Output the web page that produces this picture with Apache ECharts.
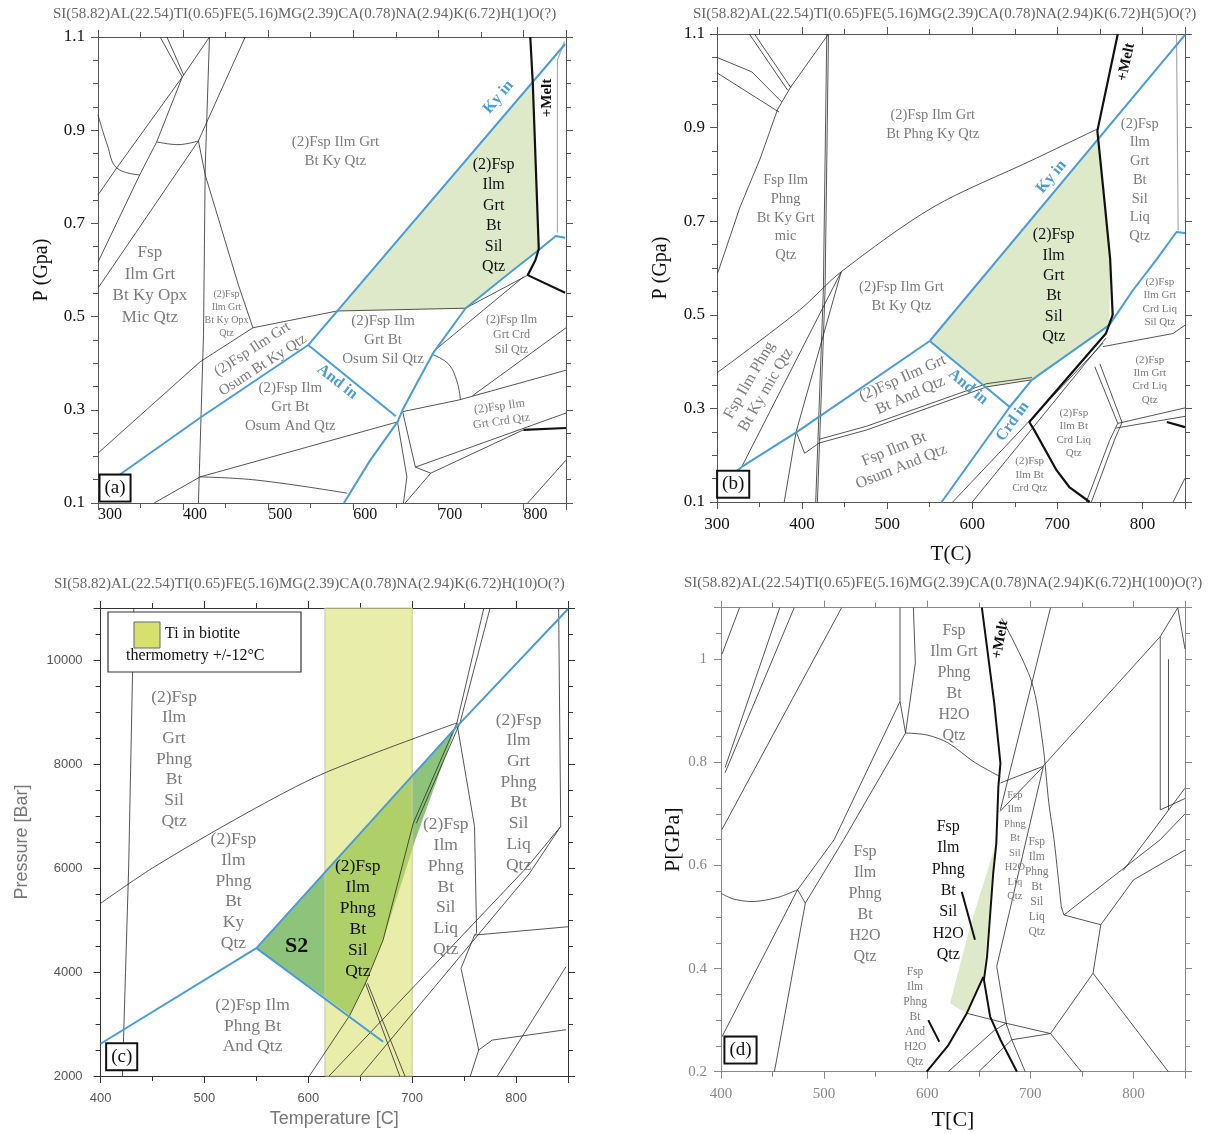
<!DOCTYPE html>
<html><head><meta charset="utf-8">
<script src="https://cdn.jsdelivr.net/npm/echarts@6/dist/echarts.min.js"></script>
<style>html,body{margin:0;padding:0;background:#fff}#c{width:1225px;height:1134px}</style>
</head><body><div id="c"></div>
<script>
// ---------------- Panel (a) : H(1) ----------------
const aTitle = 'SI(58.82)AL(22.54)TI(0.65)FE(5.16)MG(2.39)CA(0.78)NA(2.94)K(6.72)H(1)O(?)';
const aGreen = [[581,0.512],[811,1.001],[818,0.643],[732,0.518]];
const aBlue = [
  [[300,0.128],[420,0.283],[547,0.439]],
  [[547,0.439],[849,1.085]],
  [[547,0.439],[650,0.286]],
  [[589,0.1],[620,0.192],[652,0.274],[658,0.300],[675,0.358],[694,0.422],[732,0.518],[788,0.6],[818,0.643],[838,0.673],[849,0.669]]
];
const aMelt = [
  [[808,1.1],[811,1.0],[818,0.645],[814,0.621],[805,0.589],[849,0.551]],
  [[800,0.257],[850,0.261]]
];
const aThin = [
  [[431,1.1],[426,0.819],[424,0.461],[418,0.1]],
  [[373,1.1],[399,1.014]],
  [[381,1.1],[401,1.017]],
  [[431,1.1],[399,1.014],[322,0.819],[300,0.761]],
  [[399,1.014],[369,0.875],[349,0.804],[300,0.617]],
  [[473,1.1],[428,0.918],[418,0.877],[300,0.561]],
  [[418,0.877],[426,0.804],[465,0.568],[482,0.476]],
  [[300,0.207],[420,0.403],[482,0.476],[581,0.512],[732,0.518]],
  [[366,0.1],[420,0.156],[652,0.274]],
  [[658,0.296],[724,0.321],[850,0.385]],
  [[732,0.518],[805,0.589]],
  [[694,0.425],[800,0.585]],
  [[740,0.33],[850,0.476]],
  [[673,0.177],[850,0.293]],
  [[691,0.164],[800,0.257]],
  [[652,0.274],[663,0.156],[659,0.1]],
  [[658,0.296],[673,0.177],[691,0.164]],
  [[805,0.1],[850,0.192]],
  [[661,0.1],[691,0.164]]
];
const aCurves = [
  [[300,0.933],[311,0.868],[322,0.819],[349,0.804]],
  [[369,0.875],[394,0.869],[418,0.877]],
  [[420,0.156],[487,0.149],[593,0.121]],
  [[694,0.418],[712,0.398],[722,0.36],[726,0.321]]
];
const aGrey = [[[848,1.09],[840,1.05],[840,0.68]]];
const aText15 = [
  [579,0.855,'(2)Fsp Ilm Grt\nBt Ky Qtz',0],
  [635,0.45,'(2)Fsp Ilm\nGrt Bt\nOsum Sil Qtz',0],
  [526,0.306,'(2)Fsp Ilm\nGrt Bt\nOsum And Qtz',0],
  [487.5,0.413,'(2)Fsp Ilm Grt\nOsum Bt Ky Qtz',33]
];
const aText17 = [[361,0.568,'Fsp\nIlm Grt\nBt Ky Opx\nMic Qtz',0]];
const aText10 = [[451,0.506,'(2)Fsp\nIlm Grt\nBt Ky Opx\nQtz',0]];
const aText12 = [[786,0.46,'(2)Fsp Ilm\nGrt Crd\nSil Qtz',0],[773,0.291,'(2)Fsp Ilm\nGrt Crd Qtz',8]];
const aField = [[765,0.716,'(2)Fsp\nIlm\nGrt\nBt\nSil\nQtz',0]];
const aReact = [[770.6,0.971,'Ky in',50],[581,0.36,'And in',-38]];
const aMeltLbl = [[828,0.969,'+Melt',90]];
const aPanel = [[320,0.132,'(a)',0]];

// ---------------- Panel (b) : H(5) ----------------
const bTitle = 'SI(58.82)AL(22.54)TI(0.65)FE(5.16)MG(2.39)CA(0.78)NA(2.94)K(6.72)H(5)O(?)';
const bGreen = [[550,0.444],[747,0.874],[755,0.75],[762,0.62],[761,0.478],[670,0.361],[617,0.345]];
const bBlue = [
  [[300,0.132],[329,0.175],[394,0.25],[550,0.444]],
  [[550,0.444],[850,1.098]],
  [[550,0.444],[644,0.303]],
  [[564,0.1],[644,0.303],[670,0.361]],
  [[670,0.361],[761,0.478],[789,0.553],[816,0.617],[840,0.677],[850,0.675]]
];
const bMelt = [
  [[771,1.1],[747,0.893],[755,0.75],[762,0.62],[765,0.5],[757,0.46],[667,0.271],[673,0.253],[699,0.168],[714,0.132],[738,0.1]],
  [[828.6,0.271],[850,0.26]]
];
const bThin = [
  [[431,1.1],[427,0.553],[418,0.1]],
  [[429,1.1],[425,0.553],[416,0.1]],
  [[431,1.1],[386,0.985],[371,0.938],[351,0.835],[327,0.73],[301,0.59]],
  [[338,1.1],[383,0.98]],
  [[344,1.1],[387,0.985]],
  [[300,1.05],[341,1.019],[376,0.955]],
  [[300,1.017],[373,0.933]],
  [[329,0.175],[446,0.592]],
  [[379,0.1],[393,0.25],[446,0.592]],
  [[393,0.25],[403,0.204],[420,0.226],[476,0.254],[617,0.346],[670,0.361]],
  [[420,0.234],[476,0.262],[617,0.353],[670,0.366]],
  [[577,0.1],[754,0.44]],
  [[600,0.1],[757,0.45]],
  [[744,0.389],[771,0.268],[761.5,0.232],[734,0.1]],
  [[750,0.395],[776,0.27],[767,0.232],[740,0.1]],
  [[771,0.268],[850,0.301]],
  [[769,0.258],[850,0.283]],
  [[836,0.1],[850,0.151]],
  [[753.6,0.432],[836,0.46],[850,0.478]]
];
const bCurves = [
  [[300,0.376],[397,0.51],[446,0.592],[554,0.73],[671,0.831],[747,0.897]]
];
const bGrey = [[[840,1.1],[842,0.68]]];
const bText14 = [
  [553.5,0.906,'(2)Fsp Ilm Grt\nBt Phng Ky Qtz',0],
  [380.7,0.707,'Fsp Ilm\nPhng\nBt Ky Grt\nmic\nQtz',0],
  [796.8,0.788,'(2)Fsp\nIlm\nGrt\nBt\nSil\nLiq\nQtz',0],
  [516.7,0.538,'(2)Fsp Ilm Grt\nBt Ky Qtz',0]
];
const bText15 = [
  [347.8,0.35,'Fsp Ilm Phng\nBt Ky mic Qtz',60],
  [522.6,0.346,'(2)Fsp Ilm Grt\nBt And Qtz',24],
  [512.4,0.194,'Fsp Ilm Bt\nOsum And Qtz',22]
];
const bText11 = [
  [820.4,0.527,'(2)Fsp\nIlm Grt\nCrd Liq\nSil Qtz',0],
  [808.6,0.361,'(2)Fsp\nIlm Grt\nCrd Liq\nQtz',0],
  [719.3,0.247,'(2)Fsp\nIlm Bt\nCrd Liq\nQtz',0],
  [667.5,0.158,'(2)Fsp\nIlm Bt\nCrd Qtz',0]
];
const bField = [[695.7,0.5615,'(2)Fsp\nIlm\nGrt\nBt\nSil\nQtz',0]];
const bReact = [[693,0.795,'Ky in',50],[595,0.346,'And in',-40],[647.5,0.272,'Crd in',54]];
const bMeltLbl = [[781,1.04,'+Melt',78]];
const bPanel = [[319,0.138,'(b)',0]];

// ---------------- Panel (c) : H(10) ----------------
const cTitle = 'SI(58.82)AL(22.54)TI(0.65)FE(5.16)MG(2.39)CA(0.78)NA(2.94)K(6.72)H(10)O(?)';
const cGreen = [[550,4460],[742,8700],[703,6540],[672,4615],[655,3783],[640,3170]];
const cBand = [616, 700];
const cBlue = [
  [[400,2620],[550,4460]],
  [[550,4460],[742,8700],[850,10980]],
  [[550,4460],[672,2660]]
];
const cThin = [
  [[421,2000],[427,6000],[431,10000],[432,11000]],
  [[769,11000],[743,8790],[701,6860],[672,4615],[655,3783],[640,3170],[601,2000]],
  [[775,11000],[746,8790],[704,6860]],
  [[743,8790],[760,6800],[762,4750],[760,4710]],
  [[760,4710],[850,4870]],
  [[760,4710],[747,4070],[764,2500],[756,2000]],
  [[764,2500],[777,2690],[848,2890]],
  [[782,2000],[848,4100]],
  [[620,2000],[811,6025],[843,6800],[841,11000]],
  [[650,2000],[813,5900],[843,6800]],
  [[655,3783],[688,2000]],
  [[657,3783],[693,2000]]
];
const cCurves = [
  [[400,5320],[450,6000],[540,7050],[616,7830],[743,8790]]
];
const cText = [
  [470.7,8096,'(2)Fsp\nIlm\nGrt\nPhng\nBt\nSil\nQtz',0],
  [527.9,5548,'(2)Fsp\nIlm\nPhng\nBt\nKy\nQtz',0],
  [546.3,2962,'(2)Fsp Ilm\nPhng Bt\nAnd Qtz',0],
  [732.3,5635,'(2)Fsp\nIlm\nPhng\nBt\nSil\nLiq\nQtz',0],
  [802.4,7452,'(2)Fsp\nIlm\nGrt\nPhng\nBt\nSil\nLiq\nQtz',0]
];
const cField = [[647.6,5019,'(2)Fsp\nIlm\nPhng\nBt\nSil\nQtz',0]];
const cS2 = [[588.7,4487,'S2',0]];
const cPanel = [[420.3,2371,'(c)',0]];
const cLegend = ['Ti in biotite', 'thermometry +/-12°C'];

// ---------------- Panel (d) : H(100) ----------------
const dTitle = 'SI(58.82)AL(22.54)TI(0.65)FE(5.16)MG(2.39)CA(0.78)NA(2.94)K(6.72)H(100)O(?)';
const dGreen = [[665.7,0.637],[660,0.5],[654.4,0.384],[638.3,0.313],[622.1,0.333],[641.5,0.481]];
const dMelt = [
  [[653,1.1],[665,0.915],[671,0.798],[669,0.753],[667,0.643],[664,0.585],[658,0.423],[655,0.378],[661,0.307],[671,0.262],[687,0.2]],
  [[599.5,0.2],[620,0.25],[638.3,0.313],[654.4,0.384]],
  [[633.5,0.549],[646.3,0.456]],
  [[601,0.3],[611.7,0.258]]
];
const dThin = [
  [[573.6,1.1],[573.6,0.918],[579,0.857]],
  [[586.6,1.1],[588.5,0.993],[579,0.857]],
  [[671,0.76],[712,0.792]],
  [[670.6,0.705],[712.6,0.792]],
  [[712,0.792],[826,1.044],[843,1.1]],
  [[573.6,0.918],[509.7,0.65],[474.3,0.553]],
  [[579,0.857],[519,0.65],[481.8,0.527],[451.8,0.2]],
  [[474.3,0.553],[401,0.268]],
  [[474.3,0.553],[481.8,0.527]],
  [[418,1.1],[401,1.01]],
  [[457,1.1],[404,0.79]],
  [[471,1.1],[404,0.78]],
  [[517,1.1],[401,0.67]],
  [[719.6,1.1],[671,0.708]],
  [[712.6,0.792],[667.4,0.404]],
  [[667.4,0.404],[677,0.29]],
  [[639,0.313],[676.5,0.294],[719.6,0.274],[749.5,0.2]],
  [[682,0.262],[719.6,0.274]],
  [[695,0.2],[682,0.262],[676.5,0.294]],
  [[620.3,0.2],[665,0.28],[676.5,0.294]],
  [[650,0.2],[682,0.262]],
  [[730,0.52],[732.6,0.504],[768.3,0.485],[760.8,0.391],[833.8,0.2]],
  [[760.8,0.391],[719.6,0.274]],
  [[768.3,0.485],[800,0.572],[850,0.63]],
  [[732.6,0.504],[826,0.65],[850,0.7]],
  [[790,0.59],[850,0.75]],
  [[826,1.044],[826,0.708]],
  [[834,1.0],[834,0.708]],
  [[826,0.708],[834,0.715],[850,0.73]],
  [[843,1.1],[850,1.02]]
];
const dCurves = [
  [[579,0.857],[600,0.853],[620,0.838],[646,0.8],[671,0.772]],
  [[400,0.546],[412,0.535],[430,0.53],[455,0.538],[474.3,0.553]],
  [[672,1.08],[701,0.958],[712,0.837],[718,0.72],[723,0.65],[730,0.52]]
];
const dText16 = [
  [626,0.954,'Fsp\nIlm Grt\nPhng\nBt\nH2O\nQtz',0],
  [539.7,0.524,'Fsp\nIlm\nPhng\nBt\nH2O\nQtz',0]
];
const dField = [[620.4,0.551,'Fsp\nIlm\nPhng\nBt\nSil\nH2O\nQtz',0]];
const dSmall = [
  [588.2,0.306,'Fsp\nIlm\nPhng\nBt\nAnd\nH2O\nQtz',0],
  [706.2,0.558,'Fsp\nIlm\nPhng\nBt\nSil\nLiq\nQtz',0]
];
const dSmall2 = [[685,0.638,'Fsp\nIlm\nPhng\nBt\nSil\nH2O\nLiq\nQtz',0]];
const dMeltLbl = [[670.9,1.038,'+Melt',80]];
const dPanel = [[418.9,0.242,'(d)',0]];

// ---------------- build ----------------
const SERIF = "'Liberation Serif','DejaVu Serif',serif";
const SANS = "'Liberation Sans','DejaVu Sans',sans-serif";
const BLUE = '#4a9dd4', THIN = '#2a2a2a', GRAY_TXT = '#7b7b7b';

const grids = [
  {left:98, top:37, width:468, height:466},
  {left:717, top:34, width:468, height:468},
  {left:100.6, top:608, width:467.4, height:468},
  {left:721, top:607.7, width:464, height:464}
];
const panels = [
  {xmin:300,xmax:850,ymin:0.1,ymax:1.1,yint:0.2,ysplit:4,axisColor:'#555',
   xl:{color:'#111',fontFamily:SERIF,fontSize:16,margin:4,align:'left'},
   yl:{color:'#111',fontFamily:SERIF,fontSize:17,margin:13},
   yfmt:v=>(+v).toFixed(1), showMaxY:true,
   yname:'P (Gpa)', ygap:46, ynameStyle:{fontFamily:SERIF,fontSize:20,color:'#111'},
   xname:'', xgap:0},
  {xmin:300,xmax:850,ymin:0.1,ymax:1.1,yint:0.2,ysplit:4,axisColor:'#555',
   xl:{color:'#111',fontFamily:SERIF,fontSize:17,margin:14},
   yl:{color:'#111',fontFamily:SERIF,fontSize:17,margin:12},
   yfmt:v=>(+v).toFixed(1), showMaxY:true,
   yname:'P (Gpa)', ygap:46, ynameStyle:{fontFamily:SERIF,fontSize:20,color:'#111'},
   xname:'T(C)', xgap:42, xnameStyle:{fontFamily:SERIF,fontSize:21,color:'#111'}},
  {xmin:400,xmax:850,ymin:2000,ymax:11000,yint:2000,ysplit:4,axisColor:'#333',
   xl:{color:'#555',fontFamily:SANS,fontSize:13,margin:16},
   yl:{color:'#555',fontFamily:SANS,fontSize:13,margin:18},
   yfmt:v=>String(Math.round(v)), showMaxY:false,
   yname:'Pressure [Bar]', ygap:70, ynameStyle:{fontFamily:SANS,fontSize:18,color:'#777'},
   xname:'Temperature [C]', xgap:34, xnameStyle:{fontFamily:SANS,fontSize:18,color:'#777'}},
  {xmin:400,xmax:850,ymin:0.2,ymax:1.1,yint:0.2,ysplit:4,axisColor:'#888',
   xl:{color:'#888',fontFamily:SERIF,fontSize:15,margin:15},
   yl:{color:'#888',fontFamily:SERIF,fontSize:15,margin:14},
   yfmt:v=>String(+(+v).toFixed(2)), showMaxY:false,
   yname:'P[GPa]', ygap:36, ynameStyle:{fontFamily:SERIF,fontSize:22,color:'#111'},
   xname:'T[C]', xgap:38, xnameStyle:{fontFamily:SERIF,fontSize:22,color:'#111'}}
];

const xAxes = [], yAxes = [];
[0,1].forEach(side => {
  panels.forEach((p, g) => {
    const ax = {type:'value', gridIndex:g, min:p.xmin, max:p.xmax, interval:100,
      position: side ? 'top' : 'bottom',
      axisLine:{show:true,onZero:false,lineStyle:{color:p.axisColor,width:1}},
      axisTick:{show:true,length:7,lineStyle:{color:p.axisColor}},
      minorTick:{show:true,splitNumber:2,length:5,lineStyle:{color:p.axisColor}},
      splitLine:{show:false}, minorSplitLine:{show:false},
      axisLabel: side ? {show:false} : Object.assign({show:true,showMaxLabel:false,showMinLabel:true}, p.xl)};
    if (!side && p.xname) { ax.name = p.xname; ax.nameLocation='middle'; ax.nameGap=p.xgap; ax.nameTextStyle=p.xnameStyle; }
    xAxes.push(ax);
    const ay = {type:'value', gridIndex:g, min:p.ymin, max:p.ymax, interval:p.yint,
      position: side ? 'right' : 'left',
      axisLine:{show:true,onZero:false,lineStyle:{color:p.axisColor,width:1}},
      axisTick:{show:true,length:7,lineStyle:{color:p.axisColor}},
      minorTick:{show:true,splitNumber:p.ysplit,length:5,lineStyle:{color:p.axisColor}},
      splitLine:{show:false}, minorSplitLine:{show:false},
      axisLabel: side ? {show:false} : Object.assign({show:true,showMaxLabel:p.showMaxY,formatter:p.yfmt}, p.yl)};
    if (!side && p.yname) { ay.name = p.yname; ay.nameLocation='middle'; ay.nameGap=p.ygap; ay.nameRotate=90; ay.nameTextStyle=p.ynameStyle; }
    yAxes.push(ay);
  });
});

const series = [];
function lines(g, arr, color, width, z, smooth) {
  arr.forEach(pts => series.push({type:'line', xAxisIndex:g, yAxisIndex:g, data:pts, symbol:'none',
    showSymbol:false, smooth:smooth||false, lineStyle:{color:color,width:width}, silent:true, z:z, animation:false}));
}
function poly(g, pts, fill, z, stroke) {
  series.push({type:'custom', xAxisIndex:g, yAxisIndex:g, z:z, silent:true, animation:false,
    data:[pts[0]],
    renderItem:(params, api) => ({type:'polygon', shape:{points:pts.map(q=>api.coord(q))},
      style:{fill:fill, stroke:stroke||'none', lineWidth:stroke?1:0}})});
}
function texts(g, items, st) {
  const lab = {show:true, position:'inside', align:'center', verticalAlign:'middle',
    fontFamily:st.ff||SERIF, fontSize:st.size, color:st.color, fontWeight:st.bold?'bold':'normal',
    lineHeight:st.lh||Math.round(st.size*1.25), opacity:1};
  if (st.box) Object.assign(lab, {borderColor:'#111', borderWidth:2, padding:[1,4,0,4], backgroundColor:'#fff'});
  series.push({type:'scatter', xAxisIndex:g, yAxisIndex:g, symbol:'circle', symbolSize:2,
    itemStyle:{color:'rgba(0,0,0,0)'},
    silent:true, z:30, animation:false, clip:false,
    labelLayout:{hideOverlap:false},
    data: items.map(d => ({value:[d[0],d[1]], label:{show:true, formatter:d[2], rotate:d[3]||0}})),
    label: lab});
}

// (a)
poly(0, aGreen, '#dde9c9', 1);
lines(0, aThin, THIN, 0.8, 5);
lines(0, aCurves, THIN, 0.8, 5, 0.4);
lines(0, aGrey, '#aaa', 1.2, 5);
lines(0, aBlue, BLUE, 2, 7);
lines(0, aMelt, '#111', 2.2, 8);
texts(0, aText15, {size:15, color:GRAY_TXT, lh:19});
texts(0, aText17, {size:17, color:GRAY_TXT, lh:21.5});
texts(0, aText10, {size:10, color:GRAY_TXT, lh:13});
texts(0, aText12, {size:12, color:GRAY_TXT, lh:15});
texts(0, aField, {size:16, color:'#111', lh:20.5});
texts(0, aReact, {size:16, color:BLUE, bold:true});
texts(0, aMeltLbl, {size:15, color:'#111', bold:true});
texts(0, aPanel, {size:19, color:'#111', box:true});
// (b)
poly(1, bGreen, '#dde9c9', 1);
lines(1, bThin, THIN, 0.8, 5);
lines(1, bCurves, THIN, 0.8, 5, 0.3);
lines(1, bGrey, '#aaa', 1.2, 5);
lines(1, bBlue, BLUE, 2, 7);
lines(1, bMelt, '#111', 2.2, 8);
texts(1, bText14, {size:14.5, color:GRAY_TXT, lh:18.7});
texts(1, bText15, {size:16, color:GRAY_TXT, lh:19});
texts(1, bText11, {size:11, color:GRAY_TXT, lh:13.3});
texts(1, bField, {size:16, color:'#111', lh:20.4});
texts(1, bReact, {size:16, color:BLUE, bold:true});
texts(1, bMeltLbl, {size:15, color:'#111', bold:true});
texts(1, bPanel, {size:19, color:'#111', box:true});
// (c)
poly(2, cGreen, '#8dc37a', 1);
poly(2, [[cBand[0],2000],[cBand[1],2000],[cBand[1],11000],[cBand[0],11000]], 'rgba(209,219,85,0.5)', 2, '#c8c8a8');
lines(2, cThin, THIN, 0.8, 5);
lines(2, cCurves, THIN, 0.8, 5, 0.3);
lines(2, cBlue, BLUE, 2, 7);
texts(2, cText, {size:17.5, color:GRAY_TXT, lh:20.7});
texts(2, cField, {size:17.5, color:'#111', lh:21});
texts(2, cS2, {size:22, color:'#111', bold:true});
texts(2, cPanel, {size:19, color:'#111', box:true});
// (d)
poly(3, dGreen, '#dde9c9', 1);
lines(3, dThin, THIN, 0.8, 5);
lines(3, dCurves, THIN, 0.8, 5, 0.3);
lines(3, dMelt, '#111', 2, 8);
texts(3, dText16, {size:16, color:GRAY_TXT, lh:21});
texts(3, dField, {size:16, color:'#111', lh:21.3});
texts(3, dSmall, {size:11.5, color:GRAY_TXT, lh:15});
texts(3, dSmall2, {size:10.5, color:GRAY_TXT, lh:14.5});
texts(3, dMeltLbl, {size:15, color:'#111', bold:true});
texts(3, dPanel, {size:19, color:'#111', box:true});

const titleFont = "15px " + SERIF;
const graphic = [
  {type:'text', x:53, y:7, style:{text:aTitle, font:titleFont, fill:'#666'}},
  {type:'text', x:693, y:7, style:{text:bTitle, font:titleFont, fill:'#666'}},
  {type:'text', x:54, y:577, style:{text:cTitle, font:titleFont, fill:'#666'}},
  {type:'text', x:684, y:576, style:{text:dTitle, font:titleFont, fill:'#666'}},
  {type:'rect', shape:{x:108, y:612, width:193, height:60}, style:{fill:'#fff', stroke:'#333', lineWidth:1.2}, z:50},
  {type:'rect', shape:{x:134, y:622, width:26, height:26}, style:{fill:'#d6e06c', stroke:'#666', lineWidth:1}, z:51},
  {type:'text', x:165, y:626, style:{text:cLegend[0], font:"16px " + SERIF, fill:'#111'}, z:51},
  {type:'text', x:126, y:648, style:{text:cLegend[1], font:"16px " + SERIF, fill:'#111'}, z:51}
];

const chart = echarts.init(document.getElementById('c'), null, {renderer:'canvas'});
chart.setOption({animation:false, backgroundColor:'#fff', grid:grids, xAxis:xAxes, yAxis:yAxes, series:series, graphic:graphic});
</script></body></html>
